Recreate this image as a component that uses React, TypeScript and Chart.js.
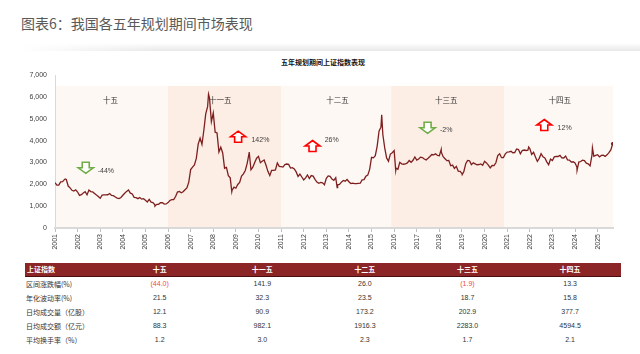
import React, { useEffect, useRef } from 'react';
import { Chart, registerables } from 'chart.js';

Chart.register(...registerables);

const FONT = '"Liberation Sans", Arial, "Noto Sans CJK SC", sans-serif';
const CJK = '"Noto Sans CJK SC", "Liberation Sans", sans-serif';

// ---- Shanghai Composite, month-end closes per five-year plan ----
const startValue = 2073; // close at the start of 2001
const closes10th = [
  1960, 1960, 2112, 2119, 2214, 2218, 1920, 1834, 1724, 1690, 1748, 1646,
  1491, 1524, 1603, 1658, 1515, 1733, 1669, 1651, 1581, 1507, 1442, 1358,
  1500, 1512, 1511, 1521, 1576, 1487, 1477, 1421, 1367, 1349, 1397, 1497,
  1590, 1675, 1742, 1595, 1555, 1399, 1386, 1342, 1396, 1320, 1340, 1266,
  1191, 1306, 1181, 1159, 1060, 1080, 1083, 1162, 1155, 1092, 1099, 1161,
];
const closes11th = [
  1258, 1299, 1298, 1440, 1642, 1672, 1612, 1658, 1752, 1837, 2099, 2675,
  2786, 2881, 3183, 3841, 4109, 3820, 4471, 5218, 5552, 5954, 4871, 5262,
  4383, 4348, 3473, 3693, 3433, 2736, 2775, 2397, 2293, 1729, 1871, 1821,
  1991, 2082, 2373, 2477, 2633, 2959, 3412, 2667, 2779, 2996, 3195, 3277,
  2989, 3051, 3110, 2871, 2592, 2398, 2638, 2638, 2656, 2979, 2820, 2808,
];
const closes12th = [
  2790, 2905, 2928, 2911, 2743, 2762, 2701, 2567, 2359, 2468, 2333, 2199,
  2292, 2428, 2263, 2397, 2373, 2225, 2103, 2047, 2086, 2069, 1980, 2269,
  2385, 2366, 2237, 2178, 2301, 1979, 1994, 2098, 2175, 2141, 2220, 2116,
  2033, 2056, 2033, 2026, 2039, 2048, 2202, 2217, 2364, 2420, 2683, 3235,
  3210, 3310, 3748, 4442, 4612, 4277, 3664, 3206, 3053, 3383, 3445, 3539,
];
const closes13th = [
  2738, 2688, 3004, 2938, 2917, 2930, 2979, 3085, 3005, 3100, 3250, 3104,
  3159, 3242, 3223, 3155, 3117, 3192, 3273, 3361, 3349, 3393, 3317, 3307,
  3481, 3259, 3169, 3082, 3095, 2847, 2876, 2725, 2821, 2603, 2588, 2494,
  2585, 2941, 3091, 3078, 2899, 2979, 2933, 2886, 2905, 2929, 2871, 3050,
  2977, 2880, 2750, 2860, 2852, 2985, 3310, 3396, 3218, 3225, 3392, 3473,
];
const closes14th = [
  3483, 3509, 3442, 3447, 3615, 3591, 3397, 3544, 3568, 3547, 3564, 3640,
  3361, 3462, 3252, 3047, 3187, 3399, 3253, 3202, 3024, 2893, 3151, 3089,
  3256, 3280, 3273, 3323, 3205, 3202, 3291, 3120, 3110, 3018, 3030, 2975,
  2789, 3015, 3041, 3105, 3087, 2967, 2939, 2842, 3336, 3280, 3326, 3352,
  3250, 3321, 3336, 3279, 3347, 3444, 3573, 3858,
];
const periodStartYears = [2001, 2006, 2011, 2016, 2021];
// intra-month highs / lows (fractional year, index level)
const extremeDates = [2001.45, 2005.42, 2007.79, 2008.82, 2009.59, 2013.48, 2015.45, 2016.07, 2018.08, 2019.01, 2021.95, 2024.09, 2024.77];
const extremeValues = [2245, 998, 6124, 1664, 3478, 1849, 5178, 2638, 3587, 2440, 3708, 2635, 3674];

// ---- axis ----
const yearTicks = [2001, 2002, 2003, 2004, 2005, 2006, 2007, 2008, 2009, 2010, 2011, 2012, 2013, 2014, 2015, 2016, 2017, 2018, 2019, 2020, 2021, 2022, 2023, 2024, 2025];
const xMin = 2001;
const xMax = 2025.68;
const yMax = 7000;

// ---- plan bands & annotations ----
const planNames = ['十五', '十一五', '十二五', '十三五', '十四五'];
const planStarts = [2001, 2006, 2011, 2015.87, 2020.87];
const bandTop = 6500;
const planLabelX = [2003.45, 2008.31, 2013.5, 2018.3, 2023.32];
const planLabelY = 5860;
const planChanges = [-44, 142, 26, -2, 12];
const arrowX = [2002.36, 2009.1, 2012.39, 2017.48, 2022.64];
const arrowY = [2754, 4177, 3751, 4584, 4712];
const changeTextX = [2002.89, 2009.69, 2012.93, 2018.03, 2023.23];
const changeTextY = [2621, 4026, 4026, 4469, 4575];

// ---- table ----
const tableTitle = '上证指数';
const rowLabels = ['区间涨跌幅(%)', '年化波动率(%)', '日均成交量（亿股）', '日均成交额（亿元）', '平均换手率（%）'];
const rowChange = [-44.0, 141.9, 26.0, -1.9, 13.3];
const rowVol = [21.5, 32.3, 23.5, 18.7, 15.8];
const rowShares = [12.1, 90.9, 173.2, 202.9, 377.7];
const rowAmount = [88.3, 982.1, 1916.3, 2283.0, 4594.5];
const rowTurnover = [1.2, 3.0, 2.3, 1.7, 2.1];
const tableRows = [rowChange, rowVol, rowShares, rowAmount, rowTurnover];

const LIGHT_BAND = '#FEF8F4';
const DARK_BAND = '#FCEDE5';
const LINE_COLOR = '#7E1F1F';
const HEADER_BG = '#8C2626';

function buildPoints() {
  const pts: { x: number; y: number }[] = [{ x: 2001, y: startValue }];
  [closes10th, closes11th, closes12th, closes13th, closes14th].forEach((arr, p) => {
    arr.forEach((v, i) => pts.push({ x: periodStartYears[p] + (i + 1) / 12, y: v }));
  });
  extremeDates.forEach((d, i) => pts.push({ x: d, y: extremeValues[i] }));
  pts.sort((a, b) => a.x - b.x);
  return pts;
}

function drawArrow(ctx: CanvasRenderingContext2D, cx: number, cy: number, up: boolean) {
  const W = 15, H = 11, head = 5.5, sw = 7;
  const dir = up ? 1 : -1;
  const tipY = cy - (dir * H) / 2;
  const baseY = cy + (dir * H) / 2;
  const headY = tipY + dir * head;
  ctx.beginPath();
  ctx.moveTo(cx, tipY);
  ctx.lineTo(cx + W / 2, headY);
  ctx.lineTo(cx + sw / 2, headY);
  ctx.lineTo(cx + sw / 2, baseY);
  ctx.lineTo(cx - sw / 2, baseY);
  ctx.lineTo(cx - sw / 2, headY);
  ctx.lineTo(cx - W / 2, headY);
  ctx.closePath();
  ctx.fillStyle = '#FFFFFF';
  ctx.fill();
  ctx.lineWidth = 1.6;
  ctx.strokeStyle = up ? '#FF0000' : '#70AD47';
  ctx.stroke();
}

const bandsPlugin = {
  id: 'planBands',
  beforeDraw(chart: any) {
    const { ctx, scales } = chart;
    const x = scales.x, y = scales.y;
    ctx.save();
    planStarts.forEach((s, i) => {
      const e = i < planStarts.length - 1 ? planStarts[i + 1] : xMax;
      const x0 = x.getPixelForValue(s);
      const x1 = x.getPixelForValue(e);
      const y0 = y.getPixelForValue(bandTop);
      const y1 = y.getPixelForValue(0);
      ctx.fillStyle = i % 2 === 0 ? LIGHT_BAND : DARK_BAND;
      ctx.fillRect(x0, y0, x1 - x0, y1 - y0);
    });
    ctx.restore();
  },
  afterDatasetsDraw(chart: any) {
    const { ctx, scales } = chart;
    const x = scales.x, y = scales.y;
    ctx.save();
    ctx.textBaseline = 'middle';
    ctx.fillStyle = '#333333';
    ctx.textAlign = 'center';
    ctx.font = `7.5px ${CJK}`;
    planNames.forEach((n, i) => {
      ctx.fillText(n, x.getPixelForValue(planLabelX[i]), y.getPixelForValue(planLabelY));
    });
    planChanges.forEach((c, i) => {
      drawArrow(ctx, x.getPixelForValue(arrowX[i]), y.getPixelForValue(arrowY[i]), c >= 0);
      ctx.fillStyle = '#404040';
      ctx.textAlign = 'left';
      ctx.font = `7px ${FONT}`;
      ctx.fillText(`${c}%`, x.getPixelForValue(changeTextX[i]), y.getPixelForValue(changeTextY[i]));
    });
    ctx.restore();
  },
};

function fmt(v: number) {
  return v < 0 ? `(${Math.abs(v).toFixed(1)})` : v.toFixed(1);
}

export default function App() {
  const ref = useRef<HTMLCanvasElement>(null);

  useEffect(() => {
    if (!ref.current) return;
    const points = buildPoints();
    const chart = new Chart(ref.current, {
      type: 'line',
      data: {
        datasets: [
          {
            data: points,
            borderColor: LINE_COLOR,
            borderWidth: 1.3,
            pointRadius: (c: any) => (c.dataIndex === points.length - 1 ? 1.8 : 0),
            pointBackgroundColor: LINE_COLOR,
            pointBorderWidth: 0,
            tension: 0,
            fill: false,
          },
        ],
      },
      options: {
        responsive: false,
        animation: false,
        layout: { padding: { left: 0, right: 27, top: 20, bottom: 0 } },
        plugins: { legend: { display: false }, tooltip: { enabled: false }, title: { display: false } },
        scales: {
          x: {
            type: 'linear',
            min: xMin,
            max: xMax,
            afterBuildTicks: (s: any) => {
              s.ticks = yearTicks.map((v) => ({ value: v }));
            },
            afterFit: (s: any) => {
              s.height = 27;
            },
            ticks: {
              autoSkip: false,
              maxRotation: 90,
              minRotation: 90,
              padding: 2,
              color: '#404040',
              font: { size: 7, family: FONT },
              callback: (v: any) => String(v),
            },
            grid: { drawOnChartArea: false, drawTicks: true, tickLength: 4, color: '#BFBFBF' },
            border: { display: true, color: '#D9D9D9', width: 2 },
          },
          y: {
            min: 0,
            max: yMax,
            afterFit: (s: any) => {
              s.width = 55;
            },
            ticks: {
              stepSize: 1000,
              padding: 8,
              color: '#404040',
              font: { size: 7, family: FONT },
              callback: (v: any) => Number(v).toLocaleString('en-US'),
            },
            grid: { drawOnChartArea: false, drawTicks: false },
            border: { display: true, color: '#D9D9D9', width: 1 },
          },
        },
      },
      plugins: [bandsPlugin],
    } as any);
    return () => chart.destroy();
  }, []);

  const cellBase: React.CSSProperties = { padding: 0, textAlign: 'center', whiteSpace: 'nowrap' };

  return (
    <div style={{ position: 'fixed', left: 0, top: 0, width: 640, height: 354, background: '#fff', overflow: 'hidden' }}>
      <div
        style={{
          position: 'absolute', left: 21, top: 13, fontFamily: CJK, fontSize: 14, lineHeight: '20px', color: '#595959', whiteSpace: 'nowrap',
        }}
      >
        图表6：我国各五年规划期间市场表现
      </div>
      <div
        style={{
          position: 'absolute', left: 20, top: 43, width: 620, height: 8,
          background: 'linear-gradient(to right, #ffffff 0%, rgba(255,255,255,0) 22%), linear-gradient(to bottom, rgba(0,0,0,0) 0%, rgba(0,0,0,0.09) 100%)',
        }}
      />
      <div
        style={{
          position: 'absolute', left: 223, top: 57, width: 200, textAlign: 'center', fontFamily: CJK, fontSize: 7, fontWeight: 'bold', lineHeight: '10px', color: '#111',
        }}
      >
        五年规划期间上证指数表现
      </div>
      <canvas ref={ref} width={640} height={200} style={{ position: 'absolute', left: 0, top: 55, width: 640, height: 200 }} />
      <table
        style={{
          position: 'absolute', left: 25, top: 263, borderCollapse: 'collapse', tableLayout: 'fixed', width: 596.4,
          fontFamily: FONT, fontSize: 7, color: '#333',
        }}
      >
        <colgroup>
          <col style={{ width: 83.4 }} />
          {planNames.map((n) => (
            <col key={n} style={{ width: 102.6 }} />
          ))}
        </colgroup>
        <thead>
          <tr style={{ background: HEADER_BG, height: 13, color: '#fff', fontWeight: 'bold', fontFamily: CJK, borderBottom: '1.5px solid #4A1010' }}>
            <th style={{ ...cellBase, textAlign: 'left', paddingLeft: 2, lineHeight: '12px' }}>{tableTitle}</th>
            {planNames.map((n) => (
              <th key={n} style={{ ...cellBase, lineHeight: '12px' }}>{n}</th>
            ))}
          </tr>
        </thead>
        <tbody>
          {rowLabels.map((label, r) => (
            <tr key={label} style={{ height: 14 }}>
              <td style={{ ...cellBase, textAlign: 'left', paddingLeft: 1, fontFamily: CJK, lineHeight: '14px' }}>{label}</td>
              {planNames.map((n, c) => {
                const v = tableRows[r][c];
                return (
                  <td key={n} style={{ ...cellBase, lineHeight: '14px', color: v < 0 ? '#F0484A' : '#333' }}>
                    {fmt(v)}
                  </td>
                );
              })}
            </tr>
          ))}
        </tbody>
      </table>
    </div>
  );
}
